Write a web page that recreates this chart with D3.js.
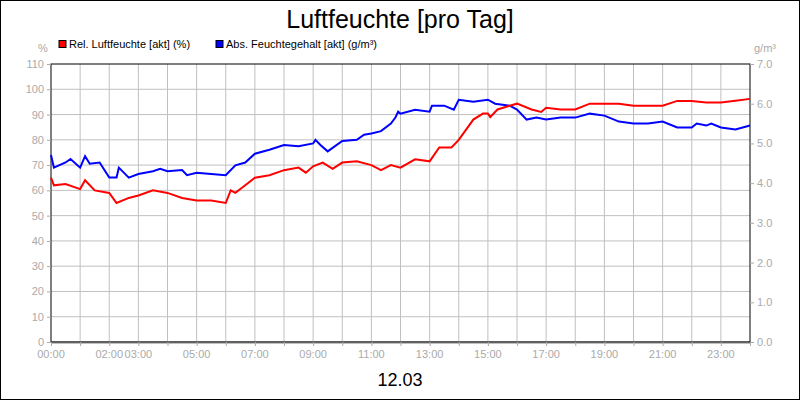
<!DOCTYPE html>
<html><head><meta charset="utf-8">
<script src="https://cdn.jsdelivr.net/npm/d3@7"></script>
<style>body{margin:0}svg{display:block;font-family:"Liberation Sans",Arial,sans-serif}</style>
</head><body><script>
var relTimes = [0,0.1,0.5,1,1.17,1.5,2,2.25,2.67,3,3.5,4,4.5,5,5.5,6,6.17,6.33,6.67,7,7.5,8,8.5,8.75,9,9.33,9.67,10,10.5,11,11.33,11.67,12,12.5,13,13.33,13.75,14,14.5,14.83,15,15.08,15.33,15.75,16,16.5,16.83,17,17.5,18,18.5,19,19.5,20,20.5,21,21.5,22,22.5,23,23.5,24];
var relValues = [65,62,62.5,60.5,64,60,59,55,57,58,60,59,57,56,56,55,60,59,62,65,66,68,69,67,69.5,71,68.5,71,71.5,70,68,70,69,72.3,71.5,77,77,80,88,90.4,90.4,89,92,93.5,94.3,92,91,92.7,92,92,94.3,94.3,94.3,93.5,93.5,93.5,95.4,95.4,94.8,94.8,95.5,96.2];
var absTimes = [0,0.1,0.5,0.67,1,1.17,1.33,1.67,2,2.25,2.33,2.67,3,3.5,3.75,4,4.5,4.67,5,5.5,6,6.33,6.67,7,7.5,8,8.5,9,9.08,9.25,9.5,10,10.5,10.75,11,11.33,11.67,11.83,11.92,12,12.5,13,13.08,13.5,13.83,14,14.5,15,15.25,15.75,16,16.33,16.67,17,17.5,18,18.5,19,19.5,20,20.5,21,21.5,22,22.17,22.5,22.67,23,23.5,24];
var absValues = [4.71,4.39,4.52,4.61,4.39,4.68,4.49,4.52,4.14,4.14,4.39,4.14,4.23,4.30,4.36,4.30,4.33,4.20,4.26,4.23,4.20,4.45,4.52,4.74,4.84,4.96,4.93,5.0,5.09,4.96,4.80,5.06,5.09,5.22,5.25,5.31,5.50,5.66,5.8,5.75,5.85,5.8,5.95,5.95,5.85,6.1,6.05,6.1,6.0,5.95,5.85,5.6,5.65,5.6,5.65,5.65,5.75,5.7,5.55,5.5,5.5,5.55,5.4,5.4,5.5,5.45,5.5,5.4,5.35,5.45];
var xTickHours = [0,2,3,5,7,9,11,13,15,17,19,21,23];
var leftTicks = d3.range(0,111,10), rightTicks = d3.range(0,8,1);

var W=800,H=400,L=51,R=750,T=64,B=342;
var svg=d3.select("body").append("svg").attr("width",W).attr("height",H);
svg.append("rect").attr("x",0.5).attr("y",0.5).attr("width",W-1).attr("height",H-1).attr("fill","#fff").attr("stroke","#000");
var x=d3.scaleLinear().domain([0,24]).range([L,R]);
var yl=d3.scaleLinear().domain([0,110]).range([B,T]);
var yr=d3.scaleLinear().domain([0,7]).range([B,T]);
var grid=svg.append("g").attr("stroke","#c0c0c0");
d3.range(1,24).forEach(function(h){grid.append("line").attr("x1",x(h)).attr("x2",x(h)).attr("y1",T).attr("y2",B);});
leftTicks.slice(1,-1).forEach(function(v){grid.append("line").attr("x1",L).attr("x2",R).attr("y1",yl(v)).attr("y2",yl(v));});
svg.append("line").attr("x1",L).attr("x2",R).attr("y1",B+0.5).attr("y2",B+0.5).attr("stroke","#c0c0c0").attr("stroke-width",3);
svg.append("rect").attr("x",L).attr("y",T).attr("width",R-L).attr("height",B-T).attr("fill","none").attr("stroke","#000");
function style(g){g.selectAll("text").attr("fill","#aaa").style("font-size","11px");g.selectAll("line").attr("stroke","#aaa");g.select(".domain").remove();}
svg.append("g").attr("transform","translate("+L+",0)").call(d3.axisLeft(yl).tickValues(leftTicks).tickSize(4).tickPadding(3)).call(style);
svg.append("g").attr("transform","translate("+R+",0)").call(d3.axisRight(yr).tickValues(rightTicks).tickSize(4).tickPadding(3)).call(style);
svg.append("g").attr("transform","translate(0,"+B+")").call(d3.axisBottom(x).tickValues(d3.range(0,25)).tickSize(4).tickFormat("")).call(style);
svg.append("g").selectAll("text").data(xTickHours).join("text").attr("x",function(d){return x(d);}).attr("y",358).attr("text-anchor","middle").attr("fill","#aaa").style("font-size","11px").text(function(d){return (d<10?"0":"")+d+":00";});
svg.append("text").attr("x",43).attr("y",52).attr("text-anchor","middle").attr("fill","#aaa").style("font-size","11px").text("%");
svg.append("text").attr("x",765).attr("y",52).attr("text-anchor","middle").attr("fill","#aaa").style("font-size","11px").text("g/m³");
var line=d3.line();
svg.append("path").attr("fill","none").attr("stroke","#0000ff").attr("stroke-width",2).attr("d",line(absTimes.map(function(t,i){return [x(t),yr(absValues[i])];})));
svg.append("path").attr("fill","none").attr("stroke","#ff0000").attr("stroke-width",2).attr("d",line(relTimes.map(function(t,i){return [x(t),yl(relValues[i])];})));
svg.append("text").attr("x",400).attr("y",28).attr("text-anchor","middle").style("font-size","25px").text("Luftfeuchte [pro Tag]");
svg.append("text").attr("x",400).attr("y",386).attr("text-anchor","middle").style("font-size","18px").text("12.03");
var leg=[["Rel. Luftfeuchte [akt] (%)","#ff0000",59],["Abs. Feuchtegehalt [akt] (g/m³)","#0000ff",216]];
leg.forEach(function(l){
  svg.append("rect").attr("x",l[2]).attr("y",40.5).attr("width",7).attr("height",7).attr("fill",l[1]).attr("stroke","#000");
  svg.append("text").attr("x",l[2]+10).attr("y",48).style("font-size","11px").text(l[0]);
});
</script></body></html>
